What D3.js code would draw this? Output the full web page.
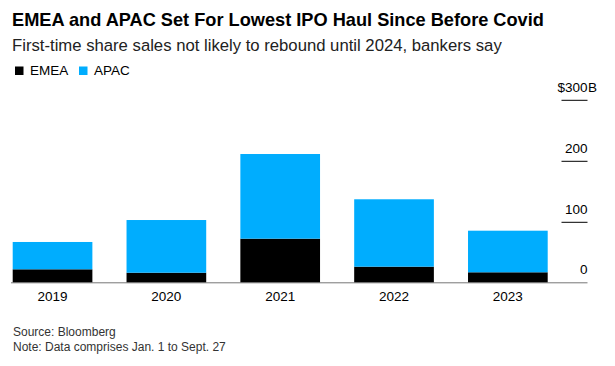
<!DOCTYPE html>
<html>
<head>
<meta charset="utf-8">
<script src="https://cdn.jsdelivr.net/npm/d3@7"></script>
<style>
    body { margin: 0; background: #fff; }
    svg { display: block; font-family: "Liberation Sans", Arial, sans-serif; }
    .title { font-size: 18.2px; font-weight: bold; fill: #000; }
    .subtitle { font-size: 16.7px; fill: #222; }
    .legend-text { font-size: 13.5px; fill: #000; }
    .axis-label { font-size: 13.5px; fill: #000; }
    .footer { font-size: 12px; fill: #333; }
</style>
</head>
<body>
<div id="chart"></div>
<script>
// chart data, billions of dollars, Jan 1 - Sept 27 of each year
const years = ["2019", "2020", "2021", "2022", "2023"];
const emea = [21.3, 15.7, 71.5, 25.6, 16.4];
const apac = [44.8, 86.4, 138.8, 110.5, 68.2];
const seriesNames = ["EMEA", "APAC"];
const yTicks = [0, 100, 200, 300];

const width = 615;
const height = 366;
const colors = { EMEA: "#000000", APAC: "#00adfe" };

const svg = d3.select("#chart").append("svg")
    .attr("width", width)
    .attr("height", height);

// header
svg.append("text").classed("title", true)
    .attr("x", 12).attr("y", 25.5)
    .text("EMEA and APAC Set For Lowest IPO Haul Since Before Covid");

svg.append("text").classed("subtitle", true)
    .attr("x", 12).attr("y", 50.5)
    .text("First-time share sales not likely to rebound until 2024, bankers say");

// legend
const legendX = [15, 79];
const legend = svg.selectAll(".legend-item")
    .data(seriesNames)
    .join("g")
    .classed("legend-item", true)
    .attr("transform", (d, i) => `translate(${legendX[i]}, 66.5)`);

legend.append("rect")
    .attr("width", 8.5).attr("height", 8.5)
    .attr("fill", d => colors[d]);

legend.append("text").classed("legend-text", true)
    .attr("x", 15).attr("y", 8.7)
    .text(d => d);

// scales
const xScale = d3.scaleBand()
    .domain(years)
    .range([12.7, 547.7])
    .paddingInner(0.3)
    .paddingOuter(0);

const yScale = d3.scaleLinear()
    .domain([0, 300])
    .range([282.3, 99.3]);

const rows = years.map((y, i) => ({ year: y, EMEA: emea[i], APAC: apac[i] }));
const stacked = d3.stack().keys(seriesNames)(rows);

// baseline
svg.append("line")
    .attr("x1", 11).attr("x2", 587.5)
    .attr("y1", yScale(0) + 0.5).attr("y2", yScale(0) + 0.5)
    .attr("stroke", "#777").attr("stroke-width", 1);

// bars
svg.append("g").attr("id", "bars")
    .selectAll("g")
    .data(stacked)
    .join("g")
    .attr("fill", d => colors[d.key])
    .selectAll("rect")
    .data(d => d)
    .join("rect")
    .attr("x", d => xScale(d.data.year))
    .attr("width", xScale.bandwidth())
    .attr("y", d => yScale(d[1]))
    .attr("height", d => yScale(d[0]) - yScale(d[1]));

// x axis labels
svg.append("g").attr("id", "x-axis")
    .selectAll("text")
    .data(years)
    .join("text")
    .classed("axis-label", true)
    .attr("x", d => xScale(d) + xScale.bandwidth() / 2)
    .attr("y", 300.5)
    .attr("text-anchor", "middle")
    .text(d => d);

// y axis on the right: short tick lines with labels above
const yAxis = svg.append("g").attr("id", "y-axis")
    .attr("transform", "translate(587.5, 0)")
    .call(d3.axisLeft(yScale).tickValues(yTicks).tickSize(26).tickFormat(d3.format("d")));

yAxis.select(".domain").remove();
yAxis.selectAll(".tick line")
    .attr("stroke", d => d === 0 ? "none" : "#000")
    .attr("transform", "translate(0, 0.5)");
yAxis.selectAll(".tick text")
    .classed("axis-label", true)
    .attr("x", 0)
    .attr("dy", null)
    .attr("y", d => d === 0 ? -9.3 : -8)
    .attr("text-anchor", "end")
    .attr("font-family", null)
    .attr("font-size", null)
    .attr("fill", "#000");

// unit prefix / suffix hang outside the top label
const topTick = yAxis.selectAll(".tick").filter(d => d === d3.max(yTicks));
const topText = topTick.select("text");
const numWidth = topText.node().getComputedTextLength();
topTick.append("text").classed("axis-label", true)
    .attr("x", -numWidth).attr("y", -8)
    .attr("text-anchor", "end")
    .attr("fill", "#000")
    .text("$");
topTick.append("text").classed("axis-label", true)
    .attr("x", 0.5).attr("y", -8)
    .attr("text-anchor", "start")
    .attr("fill", "#000")
    .text("B");

// footer
svg.append("text").classed("footer", true)
    .attr("x", 13).attr("y", 336.3)
    .text("Source: Bloomberg");
svg.append("text").classed("footer", true)
    .attr("x", 13).attr("y", 351)
    .text("Note: Data comprises Jan. 1 to Sept. 27");
</script>
</body>
</html>
